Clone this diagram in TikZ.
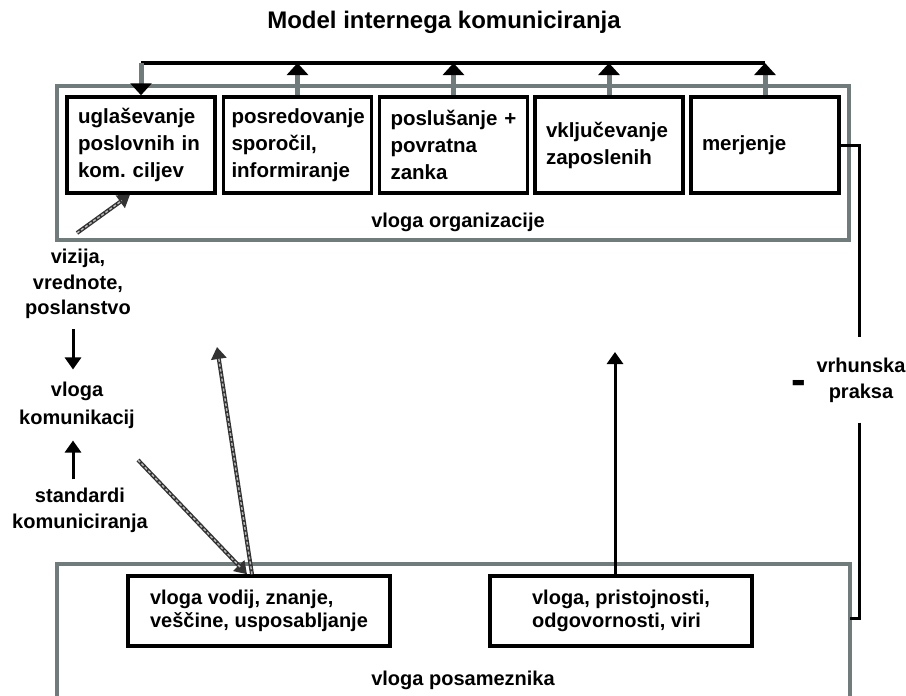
\documentclass[tikz,border=0pt]{standalone}
\usepackage{fontspec}
\setmainfont{Liberation Sans}
\usetikzlibrary{arrows.meta}
\definecolor{cgray}{RGB}{112,124,124}
\begin{document}
\begin{tikzpicture}[x=1pt,y=-1pt,
  every node/.style={font=\bfseries\fontsize{20}{25}\selectfont},
  container/.style={draw=cgray, line width=4.5pt},
  topbox/.style={draw=black, line width=3.5pt, minimum height=96pt, text width=126pt,
    inner xsep=11pt, inner ysep=0pt, align=left, font=\bfseries\fontsize{20.5}{27}\selectfont},
  botbox/.style={draw=black, line width=3.5pt, minimum height=70pt, minimum width=262pt,
    inner sep=0pt, align=left, font=\bfseries\fontsize{20}{23}\selectfont},
  uparrow/.style={draw=cgray, line width=5pt, -{Triangle[length=12pt,width=21pt,color=black]}},
  blackarrow/.style={draw=black, line width=3pt, -{Triangle[length=12pt,width=16pt]}},
  hatch/.style={draw=black!80, line width=4pt, -{Triangle[length=12pt,width=15pt]},
    postaction={draw=gray!55, line width=1.4pt, dash pattern=on 3pt off 2pt, -, shorten >=10pt}},
  conn/.style={draw=black, line width=3pt}
]
\useasboundingbox (0,0) rectangle (906,696);

% title
\node (title) [font=\bfseries\fontsize{24}{28}\selectfont] at (444,22) {Model internega komuniciranja};

% containers
\node (org) [container, minimum width=792pt, minimum height=154pt, inner sep=0pt] at (453,163) {};
\draw[container] (57,700) -- (57,564) -- (850,564) -- (850,700);

% top boxes
\node (t1) [topbox] at (141,145) {uglaševanje\\poslovnih in\\kom.\ ciljev};
\node (t2) [topbox, inner xsep=8pt, text width=132pt] at (297.5,145) {posredovanje\\sporočil,\\informiranje};
\node (t3) [topbox] at (453.5,145) {poslušanje +\\povratna\\zanka};
\node (t4) [topbox] at (609,145) {vključevanje\\zaposlenih};
\node (t5) [topbox] at (765,145) {merjenje};
\node (orglbl) at (458,222) {vloga organizacije};

% top feedback line
\coordinate (topy) at (0,63);
\draw[conn, line width=3.5pt] (t1.north |- topy) -- (t5.north |- topy);
\draw[uparrow] (t1.north |- topy) -- (t1.north);
\draw[uparrow] (t2.north) -- (t2.north |- topy);
\draw[uparrow] (t3.north) -- (t3.north |- topy);
\draw[uparrow] (t4.north) -- (t4.north |- topy);
\draw[uparrow] (t5.north) -- (t5.north |- topy);

% bottom boxes
\node (b1) [botbox] at (259,611) {vloga vodij, znanje,\\veščine, usposabljanje};
\node (b2) [botbox] at (621,611) {vloga, pristojnosti,\\odgovornosti, viri};
\node (poslbl) at (463,680) {vloga posameznika};

\coordinate (midtip) at (615,352);
\draw[blackarrow] (b2.north -| midtip) -- (midtip);

% left column
\node (viz) [align=center, inner ysep=10pt, font=\bfseries\fontsize{20}{25.5}\selectfont] at (78,284) {vizija,\\vrednote,\\poslanstvo};
\node (vkom) [align=center, inner ysep=12pt, font=\bfseries\fontsize{20}{28}\selectfont] at (77,405) {vloga\\komunikacij};
\node (std) [align=center, inner ysep=8pt, font=\bfseries\fontsize{20}{26}\selectfont] at (80,510) {standardi\\komuniciranja};
\draw[blackarrow] ([xshift=-5pt]viz.south) -- ([xshift=-4pt]vkom.north);
\draw[blackarrow] ([xshift=-7pt]std.north) -- ([xshift=-4pt]vkom.south);

% hatched arrows
\coordinate (vistail) at (77,233);
\draw[hatch] (vistail) -- ([xshift=-11pt]t1.south);
\coordinate (stdtail) at (138,460);
\coordinate (uptip) at (217,347);
\draw[hatch] (stdtail) -- ([xshift=-12pt]b1.north);
\draw[hatch] ([xshift=-7pt]b1.north) -- (uptip);

% right connector
\node (vrh) [align=center, inner ysep=20pt, font=\bfseries\fontsize{20}{26}\selectfont] at (861,380) {vrhunska\\praksa};
\node (dash) [font=\bfseries\fontsize{44}{44}\selectfont, inner sep=0pt] at (799,387) {-};
\coordinate (hook) at (850,618);
\draw[conn] (t5.east) -| ([xshift=-2pt]vrh.north);
\draw[conn] ([xshift=-2pt]vrh.south) |- (hook);
\end{tikzpicture}
\end{document}
